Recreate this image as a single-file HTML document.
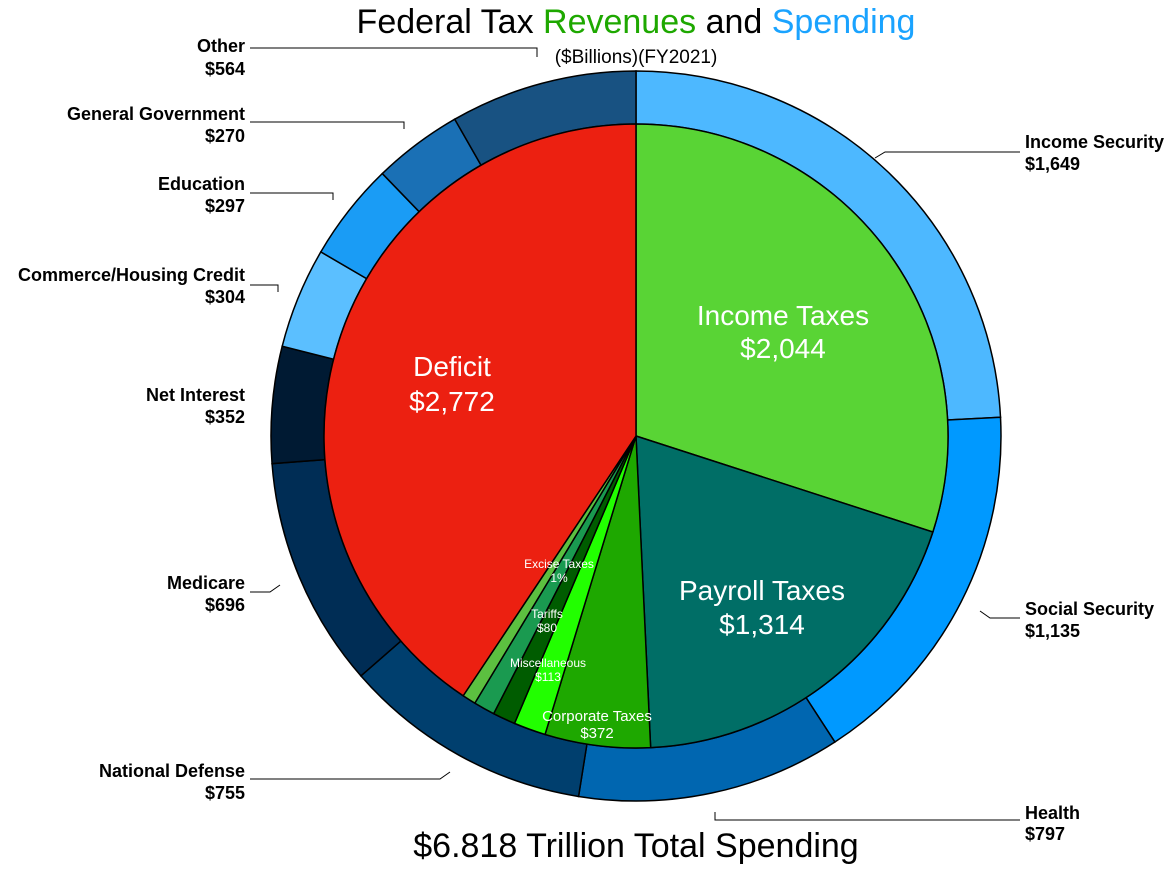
<!DOCTYPE html>
<html><head><meta charset="utf-8"><style>
body{margin:0;background:#fff;width:1170px;height:866px;overflow:hidden;font-family:"Liberation Sans",sans-serif}
</style></head><body>
<svg id="s" width="1170" height="866" xmlns="http://www.w3.org/2000/svg" font-family="Liberation Sans, sans-serif">
<g id="pie"></g>
<g stroke="#000" stroke-width="1" fill="none">
<polyline points="250,48 537,48 537,57"/>
<polyline points="250,122 404,122 404,129"/>
<polyline points="250,193 333,193 333,200"/>
<polyline points="250,285 278,285 278,292"/>
<polyline points="250,592 270,592 280,585"/>
<polyline points="250,779 440,779 450,772"/>
<polyline points="1020,152 885,152 875,158"/>
<polyline points="1020,618 990,618 980,611"/>
<polyline points="1020,820 715,820 715,812"/>
</g>
<g font-weight="bold" font-size="18" text-anchor="end" fill="#000">
<text x="245" y="52">Other</text><text x="245" y="75">$564</text>
<text x="245" y="120">General Government</text><text x="245" y="142">$270</text>
<text x="245" y="190">Education</text><text x="245" y="212">$297</text>
<text x="245" y="281">Commerce/Housing Credit</text><text x="245" y="303">$304</text>
<text x="245" y="401">Net Interest</text><text x="245" y="423">$352</text>
<text x="245" y="589">Medicare</text><text x="245" y="611">$696</text>
<text x="245" y="777">National Defense</text><text x="245" y="799">$755</text>
</g>
<g font-weight="bold" font-size="18" fill="#000">
<text x="1025" y="148">Income Security</text><text x="1025" y="170">$1,649</text>
<text x="1025" y="615">Social Security</text><text x="1025" y="637">$1,135</text>
<text x="1025" y="819">Health</text><text x="1025" y="840">$797</text>
</g>
<text x="636" y="33" font-size="34" text-anchor="middle">Federal Tax <tspan fill="#1ea800">Revenues</tspan> and <tspan fill="#1aa3ff">Spending</tspan></text>
<text x="636" y="63" font-size="19" text-anchor="middle">($Billions)(FY2021)</text>
<text x="636" y="857" font-size="34" text-anchor="middle">$6.818 Trillion Total Spending</text>
<g fill="#fff" text-anchor="middle">
<text x="783" y="325" font-size="28">Income Taxes</text><text x="783" y="358" font-size="28">$2,044</text>
<text x="452" y="376" font-size="28">Deficit</text><text x="452" y="411" font-size="28">$2,772</text>
<text x="762" y="600" font-size="28">Payroll Taxes</text><text x="762" y="634" font-size="28">$1,314</text>
<text x="597" y="721" font-size="15">Corporate Taxes</text><text x="597" y="738" font-size="15">$372</text>
<text x="548" y="667" font-size="12">Miscellaneous</text><text x="548" y="681" font-size="12">$113</text>
<text x="547" y="618" font-size="12">Tariffs</text><text x="547" y="632" font-size="12">$80</text>
<text x="559" y="568" font-size="12">Excise Taxes</text><text x="559" y="582" font-size="12">1%</text>
</g>
</svg>
<script>
var cx=636,cy=436,R=365,r=312;
function p(a,rad){return [cx+rad*Math.sin(a),cy-rad*Math.cos(a)];}
var g=document.getElementById('pie'),h='';
function slices(data,ri,ro){var t=0;data.forEach(function(d){t+=d[0];});var a=0;
data.forEach(function(d){var a2=a+d[0]/t*2*Math.PI,lg=(a2-a)>Math.PI?1:0;
var o1=p(a,ro),o2=p(a2,ro),s;
if(ri==0){s='M'+cx+','+cy+'L'+o1+'A'+ro+','+ro+' 0 '+lg+' 1 '+o2+'Z';}
else{var i1=p(a,ri),i2=p(a2,ri);s='M'+o1+'A'+ro+','+ro+' 0 '+lg+' 1 '+o2+'L'+i2+'A'+ri+','+ri+' 0 '+lg+' 0 '+i1+'Z';}
h+='<path d="'+s+'" fill="'+d[1]+'" stroke="#000" stroke-width="1.5"/>';a=a2;});}
slices([[1649,'#4db8ff'],[1135,'#0099ff'],[797,'#0066b0'],[755,'#003f6e'],[696,'#002d55'],[352,'#001a33'],[304,'#5bbfff'],[297,'#1a9cf5'],[270,'#1a70b5'],[564,'#185282']],r,R);
slices([[2044,'#59d435'],[1314,'#006e66'],[372,'#1ea800'],[113,'#22ff00'],[80,'#005c00'],[75,'#1a9a50'],[48,'#5cc040'],[2772,'#ec2011']],0,r);
g.innerHTML=h;
</script>
</body></html>
